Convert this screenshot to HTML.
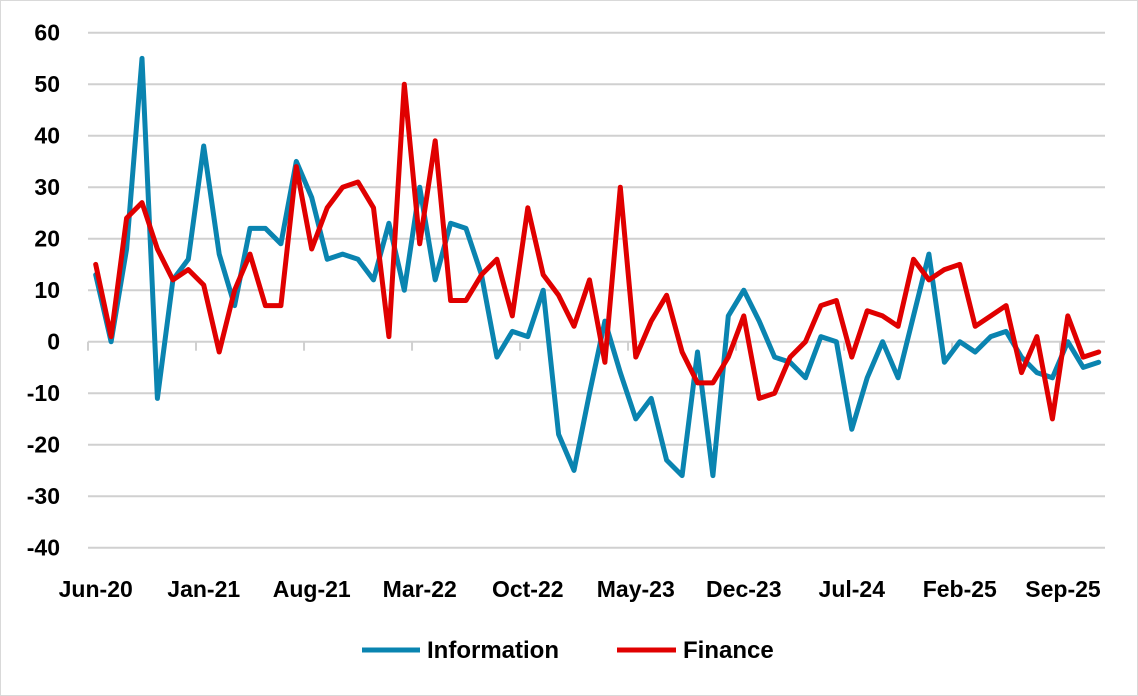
<!DOCTYPE html>
<html><head><meta charset="utf-8"><style>
body{margin:0;background:#fff}
svg{display:block;font-family:"Liberation Sans",sans-serif;font-weight:bold}
</style></head><body>
<svg id="c" width="1138" height="696" viewBox="0 0 1138 696" xmlns="http://www.w3.org/2000/svg">
<rect x="0.5" y="0.5" width="1137" height="695" fill="#fff" stroke="#d9d9d9"/>
<g id="grid" stroke="#d0d0d0" stroke-width="2"></g>
<g id="ylab" font-size="23" text-anchor="end" fill="#000"></g>
<g id="xlab" font-size="23" text-anchor="middle" fill="#000"></g>
<polyline id="inf" fill="none" stroke="#0a84b0" stroke-width="5" stroke-linejoin="round" stroke-linecap="round"/>
<polyline id="fin" fill="none" stroke="#e00000" stroke-width="5" stroke-linejoin="round" stroke-linecap="round"/>
<line x1="362" y1="650" x2="420" y2="650" stroke="#0a84b0" stroke-width="5"/>
<text x="427" y="658" font-size="24">Information</text>
<line x1="617" y1="650" x2="676" y2="650" stroke="#e00000" stroke-width="5"/>
<text x="683" y="658" font-size="24">Finance</text>
</svg>
<script>
var ns="http://www.w3.org/2000/svg";
function el(p,t,a,txt){var e=document.createElementNS(ns,t);for(var k in a)e.setAttribute(k,a[k]);if(txt!==undefined)e.textContent=txt;document.getElementById(p).appendChild(e);}
var X0=88,X1=1105,step=15.43,Y=function(v){return 341.7-v*5.15;};
for(var v=-40;v<=60;v+=10){el("grid","line",{x1:X0,x2:X1,y1:Y(v),y2:Y(v)});el("ylab","text",{x:60,y:Y(v)+8},String(v));}
for(var i=0;i<=9;i++){var x=X0+i*7*step;el("grid","line",{x1:x,x2:x,y1:Y(0),y2:Y(0)+9});}
var labs=["Jun-20","Jan-21","Aug-21","Mar-22","Oct-22","May-23","Dec-23","Jul-24","Feb-25","Sep-25"];
labs.forEach(function(l,i){var x=X0+step*(7*i+0.5);if(i==9)x=1063;el("xlab","text",{x:x,y:597},l);});
var inf=[13,0,18,55,-11,12,16,38,17,7,22,22,19,35,28,16,17,16,12,23,10,30,12,23,22,13,-3,2,1,10,-18,-25,-10,4,-6,-15,-11,-23,-26,-2,-26,5,10,4,-3,-4,-7,1,0,-17,-7,0,-7,5,17,-4,0,-2,1,2,-3,-6,-7,0,-5,-4];
var fin=[15,1,24,27,18,12,14,11,-2,10,17,7,7,34,18,26,30,31,26,1,50,19,39,8,8,13,16,5,26,13,9,3,12,-4,30,-3,4,9,-2,-8,-8,-3,5,-11,-10,-3,0,7,8,-3,6,5,3,16,12,14,15,3,5,7,-6,1,-15,5,-3,-2];
function pts(a){return a.map(function(v,i){return (X0+step*(i+0.5)).toFixed(1)+","+Y(v).toFixed(1);}).join(" ");}
document.getElementById("inf").setAttribute("points",pts(inf));
document.getElementById("fin").setAttribute("points",pts(fin));
</script>
</body></html>
